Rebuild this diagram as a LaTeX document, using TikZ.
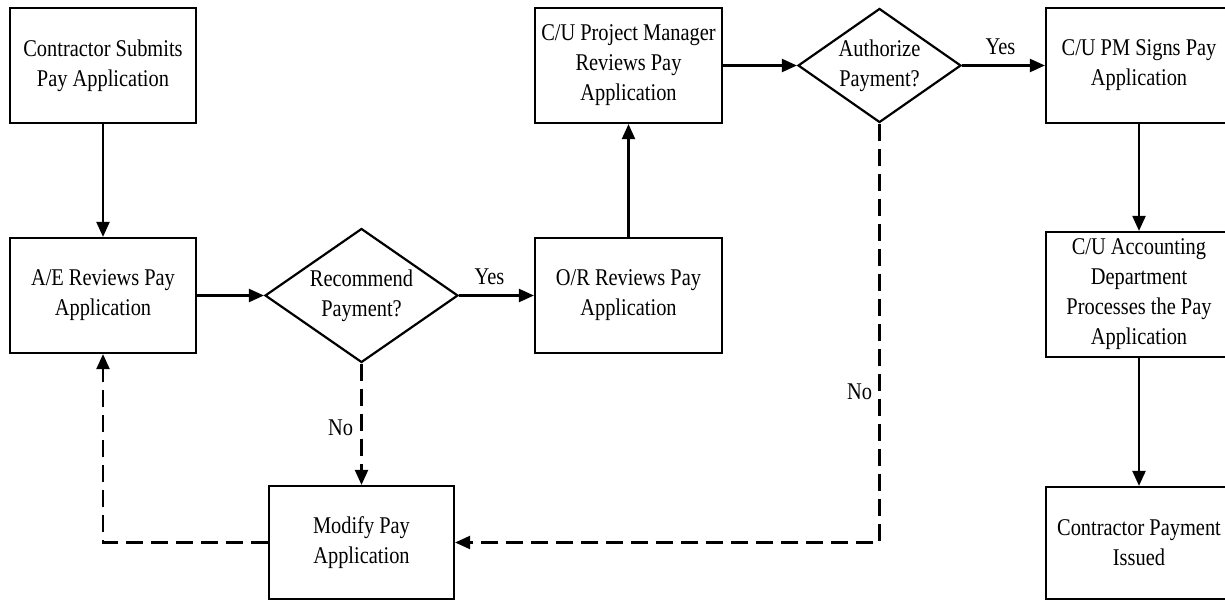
\documentclass[tikz,border=0pt]{standalone}
\usepackage{fontspec}
\setmainfont{Liberation Serif}[FakeStretch=0.85]
\usetikzlibrary{arrows.meta,shapes.geometric}
\tikzset{
  box/.style={draw, rectangle, minimum width=186pt, minimum height=115pt, inner sep=0pt, align=center},
  dia/.style={draw, diamond, inner sep=0pt},
  txt/.style={align=center, inner sep=0pt},
  flow/.style={-{Triangle[length=15pt,width=13pt]}},
  noflow/.style={flow, dash pattern=on 17pt off 8pt},
  lbl/.style={inner sep=3.33pt},
  every node/.style={font=\fontsize{24}{30}\selectfont}
}
\begin{document}
\begin{tikzpicture}[x=1pt,y=-1pt,line width=2.2pt]
\useasboundingbox (0,0) rectangle (1225,601);
\node[box] (sub) at (103,65.5) {Contractor Submits\\Pay Application};
\node[box] (ae) at (103,295.5) {A/E Reviews Pay\\Application};
\node[dia, minimum width=193pt, minimum height=134pt] (rec) at (361.5,295.5) {};
\node[txt] (rect) at (rec.center) {Recommend\\Payment?};
\node[box, minimum width=187pt] (or) at (628.5,295.5) {O/R Reviews Pay\\Application};
\node[box, minimum width=187pt] (pm) at (628.5,65.5) {C/U Project Manager\\Reviews Pay\\Application};
\node[dia, minimum width=163pt, minimum height=114pt] (auth) at (879.5,65.5) {};
\node[txt] (autht) at (auth.center) {Authorize\\Payment?};
\node[box] (sign) at (1139,65.5) {C/U PM Signs Pay\\Application};
\node[box, minimum height=125pt] (acct) at (1139,294.5) {C/U Accounting\\Department\\Processes the Pay\\Application};
\node[box, minimum height=112pt] (pay) at (1139,543) {Contractor Payment\\Issued};
\node[box, minimum width=185pt, minimum height=113pt] (mod) at (361.5,542.5) {Modify Pay\\Application};

\draw[flow] (sub) -- (ae);
\draw[flow] (ae) -- (rec);
\draw[flow] (rec) -- node[lbl, midway, above=6pt, xshift=-7pt] (yes1) {Yes} (or);
\draw[flow] (or) -- (pm);
\draw[flow] (pm) -- (auth);
\draw[flow] (auth) -- node[lbl, midway, above=6pt, xshift=-3pt] (yes2) {Yes} (sign);
\draw[flow] (sign) -- (acct);
\draw[flow] (acct) -- (pay);
\draw[noflow] (rec) -- node[lbl, pos=0.53, left=4pt] (no1) {No} (mod);
\draw[noflow] (auth.south) |- node[lbl, pos=0.32, left=3pt] (no2) {No} (mod.east);
\draw[noflow] (mod.west) -| (ae.south);
\end{tikzpicture}
\end{document}
